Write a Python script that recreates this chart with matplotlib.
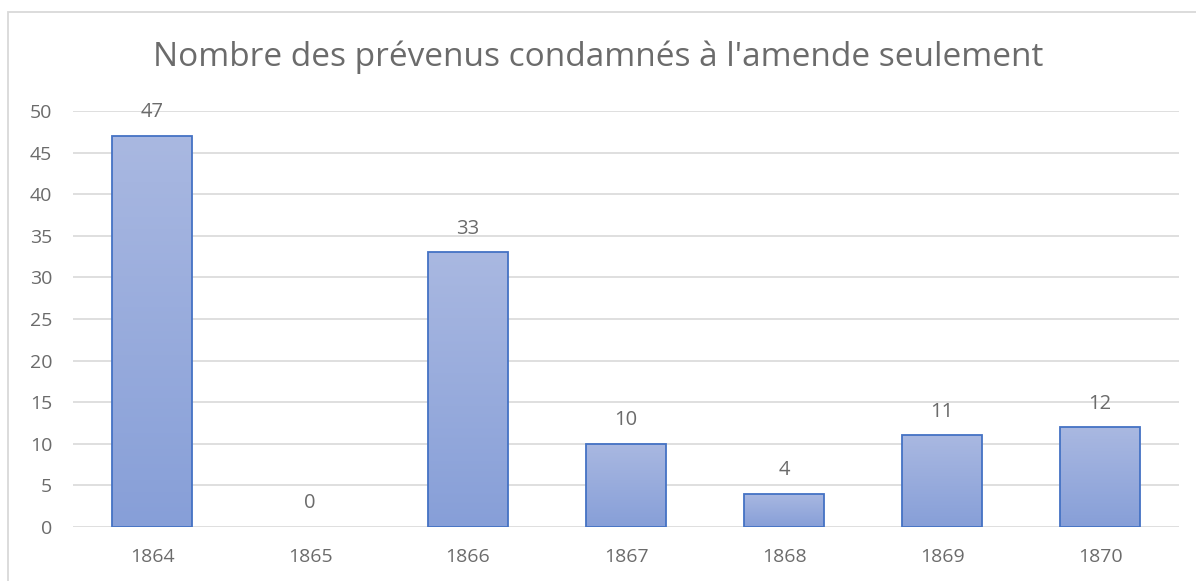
import matplotlib.pyplot as plt
import numpy as np
from matplotlib.colors import LinearSegmentedColormap
from matplotlib.patches import Rectangle

years = ['1864', '1865', '1866', '1867', '1868', '1869', '1870']
counts = [47, 0, 33, 10, 4, 11, 12]
title = "Nombre des prévenus condamnés à l'amende seulement"

grey = '#6b6b6b'
plt.rcParams['font.family'] = ['Open Sans', 'DejaVu Sans']

fig = plt.figure(figsize=(11.96, 5.81), dpi=100)
# chart frame (runs off the right/bottom edge like the source)
fig.patches.append(Rectangle((8 / 1196, -0.1), 1.2, 1 - 12 / 581 + 0.1,
                             transform=fig.transFigure, fill=False,
                             edgecolor='#d9d9d9', linewidth=1.3))

ax = fig.add_axes([73 / 1196, 1 - 527 / 581, (1179 - 73) / 1196, (527 - 111) / 581])
x = np.arange(len(years))
edges = ['#4472c4' if v > 0 else 'none' for v in counts]
bars = ax.bar(x, counts, width=0.506, color='none', edgecolor=edges,
              linewidth=1.3, zorder=3)

# vertical gradient inside each bar
grad = LinearSegmentedColormap.from_list('g', ['#879fd8', '#a9b8e1'])
for b in bars:
    if b.get_height() == 0:
        continue
    x0, y0 = b.get_x(), b.get_y()
    w, h = b.get_width(), b.get_height()
    im = ax.imshow(np.linspace(0, 1, 100).reshape(-1, 1), cmap=grad, origin='lower',
                   extent=[x0, x0 + w, y0, y0 + h], aspect='auto', zorder=2)
    im.set_clip_path(b)

for xi, v in zip(x, counts):
    ax.annotate(str(v), (xi, v), xytext=(0, 17), textcoords='offset points',
                ha='center', va='center', fontsize=14.5, color=grey, zorder=1)

ax.set_xlim(-0.5, len(years) - 0.5)
ax.set_ylim(0, 50)
ax.set_yticks(range(0, 51, 5))
ax.set_xticks(x)
ax.set_xticklabels(years)
ax.grid(axis='y', color='#d9d9d9', linewidth=1.2, zorder=0)
ax.set_axisbelow(True)
for s in ax.spines.values():
    s.set_visible(False)
ax.tick_params(length=0, labelsize=14, colors=grey)
ax.tick_params(axis='y', pad=15)
ax.tick_params(axis='x', pad=15)

fig.text(0.5, 1 - 57 / 581, title, ha='center', va='center', fontsize=24, color=grey)

fig.savefig('out.png', dpi=100)
